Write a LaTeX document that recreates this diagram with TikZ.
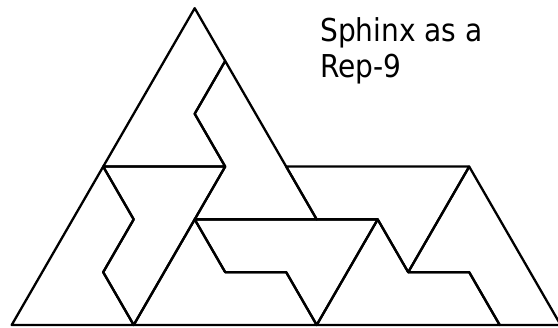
\documentclass[tikz,border=0pt]{standalone}
\usepackage{fontspec}
\newfontfamily\labelfont[FakeStretch=0.89]{DejaVu Sans}
\begin{document}
\begin{tikzpicture}[x=1pt,y=1pt,
  piece/.style={draw=black,line width=2.3pt,line join=round},
  caption/.style={font=\labelfont\fontsize{31.5}{36}\selectfont,inner sep=0pt,anchor=base west}]
\useasboundingbox (0,0) rectangle (558,328);
\clip (0,0) rectangle (558,328);
\begin{scope}[shift={(11.7,3)},x=61pt,y=52.8pt]
  % vertices in triangular-grid units
  \coordinate (A) at (0,0);
  \coordinate (B) at (2,0);
  \coordinate (C) at (5,0);
  \coordinate (D) at (8,0);
  \coordinate (E) at (9,0);
  \coordinate (F) at (1.5,1);
  \coordinate (G) at (3.5,1);
  \coordinate (H) at (4.5,1);
  \coordinate (I) at (6.5,1);
  \coordinate (J) at (7.5,1);
  \coordinate (K) at (2,2);
  \coordinate (L) at (3,2);
  \coordinate (M) at (5,2);
  \coordinate (N) at (6,2);
  \coordinate (O) at (1.5,3);
  \coordinate (P) at (3.5,3);
  \coordinate (Q) at (4.5,3);
  \coordinate (R) at (7.5,3);
  \coordinate (S) at (3,4);
  \coordinate (T) at (3.5,5);
  \coordinate (U) at (3,6);
  % nine sphinxes
  \draw[piece] (O) -- (P) -- (S) -- (T) -- (U) -- cycle;
  \draw[piece] (T) -- (Q) -- (M) -- (L) -- (P) -- (S) -- cycle;
  \draw[piece] (A) -- (B) -- (F) -- (K) -- (O) -- cycle;
  \draw[piece] (O) -- (P) -- (B) -- (F) -- (K) -- cycle;
  \draw[piece] (B) -- (C) -- (H) -- (G) -- (L) -- cycle;
  \draw[piece] (L) -- (N) -- (C) -- (H) -- (G) -- cycle;
  \draw[piece] (C) -- (D) -- (J) -- (I) -- (N) -- cycle;
  \draw[piece] (Q) -- (R) -- (I) -- (N) -- (M) -- cycle;
  \draw[piece] (R) -- (E) -- (D) -- (J) -- (I) -- cycle;
\end{scope}
\node[caption] (t1) at (320,286) {Sphinx as a};
\node[caption] (t2) at (320,250) {Rep-9};
\end{tikzpicture}
\end{document}
